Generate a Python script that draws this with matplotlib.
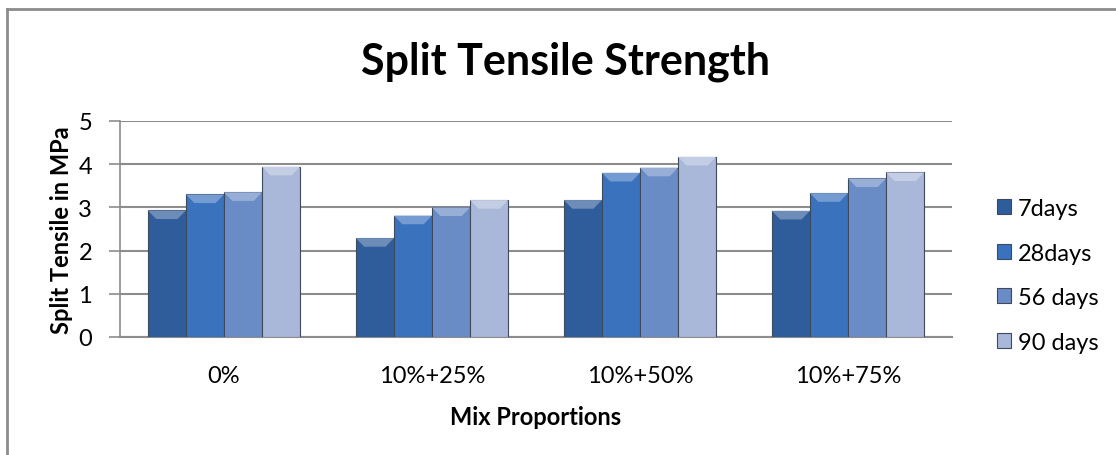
import matplotlib
matplotlib.use("Agg")
import matplotlib.pyplot as plt
from matplotlib.patches import Polygon
from matplotlib.colors import to_rgb
import numpy as np

plt.rcParams['font.family'] = ['Lato', 'DejaVu Sans']

# data
mixes = ["0%", "10%+25%", "10%+50%", "10%+75%"]
series = ["7days", "28days", "56 days", "90 days"]
d7 = [2.93, 2.29, 3.17, 2.92]
d28 = [3.30, 2.81, 3.80, 3.33]
d56 = [3.35, 3.00, 3.92, 3.67]
d90 = [3.94, 3.17, 4.17, 3.81]
colors = ["#2f5c9a", "#3a72be", "#6a8cc6", "#a9b8d8"]

values = [d7, d28, d56, d90]


def lighten(c, f):
    r, g, b = to_rgb(c)
    return (r + (1 - r) * f, g + (1 - g) * f, b + (1 - b) * f)


fig = plt.figure(figsize=(11.16, 4.56), dpi=100)
ax = fig.add_axes([120/1116, 1 - 338/456, 832/1116, 216/456])

x = np.arange(len(mixes))
w = 0.183
for i, (vals, c, name) in enumerate(zip(values, colors, series)):
    bars = ax.bar(x + (i - 1.5) * w, vals, w, color=c, edgecolor="#3d4a5c",
                  linewidth=0.8, label=name, zorder=3)
    # top bevel highlight, built from each bar's own geometry
    for b in bars:
        x0, y0 = b.get_x(), b.get_y()
        x1, y1 = x0 + b.get_width(), y0 + b.get_height()
        bx, by = b.get_width() * 0.22, 0.2
        ax.add_patch(Polygon([(x0, y1), (x1, y1), (x1 - bx, y1 - by), (x0 + bx, y1 - by)],
                             closed=True, facecolor=lighten(c, 0.3), edgecolor="none", zorder=4))

ax.set_xlim(-0.5, 3.5)
ax.set_ylim(0, 5)
ax.set_yticks(range(6))
ax.set_xticks(x)
ax.set_xticklabels(mixes)
ax.tick_params(axis="x", length=0, pad=20, labelsize=17)
ax.tick_params(axis="y", length=8, width=1.2, color="#8c8c8c", pad=12, labelsize=17)
ax.grid(axis="y", color="#8c8c8c", linewidth=1.5, zorder=0)
for s in ["top", "right"]:
    ax.spines[s].set_visible(False)
ax.spines["bottom"].set_color("#8c8c8c")
ax.spines["bottom"].set_linewidth(1.5)
ax.spines["left"].set_color("#8c8c8c")
ax.spines["left"].set_linewidth(1.2)

ax.set_ylabel("Split Tensile in MPa", fontsize=17, fontweight="bold", labelpad=4)
ax.set_xlabel("Mix Proportions", fontsize=17, fontweight="bold", labelpad=14)
fig.text(0.507, 0.864, "Split Tensile Strength", ha="center", va="center",
         fontsize=31, fontweight="bold")

ax.legend(loc="center left", bbox_to_anchor=(1.028, 0.285), frameon=False,
          fontsize=17, handlelength=0.6, handleheight=0.6, handletextpad=0.3,
          labelspacing=1.0)

# chart border (left and top edges visible)
fig.add_artist(plt.Line2D([7/1116, 7/1116], [0, 1 - 10/456], color="#8c8c8c", lw=2))
fig.add_artist(plt.Line2D([7/1116, 1], [1 - 10/456, 1 - 10/456], color="#8c8c8c", lw=2))

fig.savefig("out.png", dpi=100)
